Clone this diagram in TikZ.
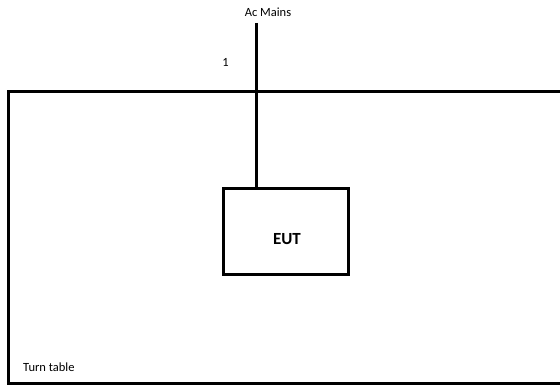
\documentclass[tikz,border=0pt]{standalone}
\usepackage{fontspec}
\setmainfont{Carlito}
\usetikzlibrary{positioning}

\begin{document}
\begin{tikzpicture}[x=1pt, y=-1pt]

  \tikzset{
    wire/.style={line width=3pt, black},
    eutbox/.style={draw, line width=3pt, minimum width=125pt, minimum height=86pt, inner sep=0pt},
    eutlabel/.style={font=\fontsize{17}{20}\selectfont\bfseries, inner sep=0pt},
    tag/.style={font=\fontsize{12.5}{15}\selectfont, inner sep=0pt}
  };

  \useasboundingbox (0, 0) rectangle (560, 385);

  % turn table
  \draw[wire] (566, 92) -- (8.5, 92) -- (8.5, 383.5) -- (566, 383.5);
  \node[tag, anchor=base west] (turntable) at (23, 371) {Turn table};

  % equipment under test
  \node[eutbox] (eut) at (285.5, 231.5) {};
  \node[eutlabel, xshift=1.5pt, yshift=-7.5pt] (eutname) at (eut.center) {EUT};

  % mains cable
  \coordinate (mains) at (256.5, 23);
  \draw[wire] (mains) -- (mains |- eut.north);
  \node[tag] (mainslabel) at (268, 12) {Ac Mains};
  \node[tag] (cablenum) at (225.5, 62) {1};

\end{tikzpicture}
\end{document}
